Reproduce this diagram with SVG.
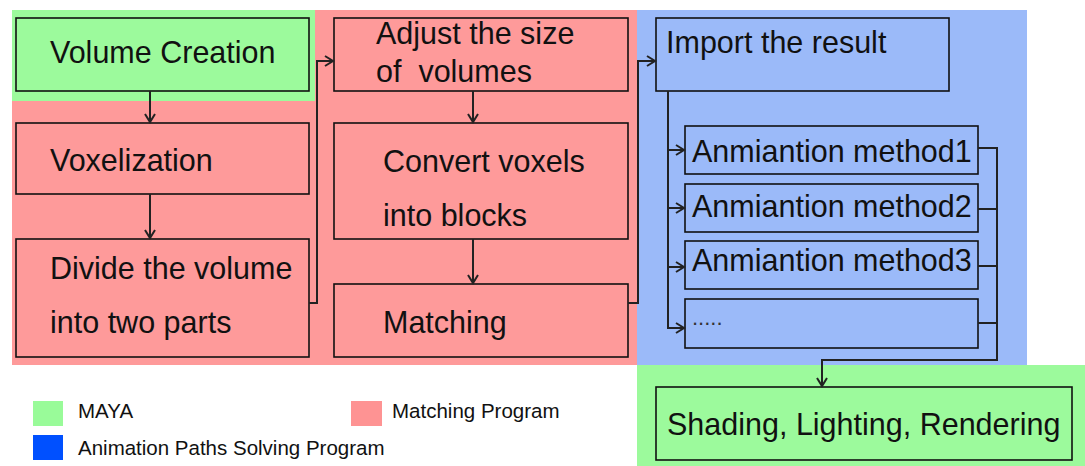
<svg xmlns="http://www.w3.org/2000/svg" width="1085" height="466" viewBox="0 0 1085 466">
<defs>
<style>
.box{fill:none;stroke:#111;stroke-width:1.6}
.t{font-family:"Liberation Sans",Arial,sans-serif;font-size:30.5px;fill:#111}
.lg{font-family:"Liberation Sans",Arial,sans-serif;font-size:20.5px;fill:#111}
.c{fill:none;stroke:#222;stroke-width:2}
</style>
<marker id="ah" markerWidth="12" markerHeight="12" refX="10" refY="6" orient="auto" markerUnits="userSpaceOnUse">
<path d="M2,1 L10,6 L2,11" fill="none" stroke="#222" stroke-width="2"/>
</marker>
</defs>
<rect x="0" y="0" width="1085" height="466" fill="#fff"/>
<g id="regions">
<rect x="12" y="10" width="625" height="355" fill="#fe9a9a"/>
<rect x="12" y="10" width="303" height="91" fill="#9cfa9c"/>
<rect x="637" y="10" width="390" height="355" fill="#9bbaf9"/>
<rect x="637" y="365" width="448" height="101" fill="#9cfa9c"/>
</g>
<g id="n-volume"><rect class="box" x="16" y="18" width="293" height="73"/><text class="t" x="50" y="63">Volume Creation</text></g>
<g id="n-voxel"><rect class="box" x="16" y="123" width="293" height="71"/><text class="t" x="50" y="171">Voxelization</text></g>
<g id="n-divide"><rect class="box" x="16" y="239" width="293" height="118"/><text class="t" x="50" y="279">Divide the volume</text><text class="t" x="50" y="333">into two parts</text></g>
<g id="n-adjust"><rect class="box" x="334" y="18" width="294" height="73"/><text class="t" x="376" y="44">Adjust the size</text><text class="t" x="376" y="82" xml:space="preserve">of  volumes</text></g>
<g id="n-convert"><rect class="box" x="334" y="123" width="294" height="116"/><text class="t" x="383" y="172">Convert voxels</text><text class="t" x="383" y="226">into blocks</text></g>
<g id="n-matching"><rect class="box" x="334" y="284" width="294" height="73"/><text class="t" x="383" y="333">Matching</text></g>
<g id="n-import"><rect class="box" x="656" y="18" width="293" height="73"/><text class="t" x="666" y="53">Import the result</text></g>
<g id="n-m1"><rect class="box" x="685" y="126" width="293" height="48"/><text class="t" x="692" y="162">Anmiantion method1</text></g>
<g id="n-m2"><rect class="box" x="685" y="184" width="293" height="48"/><text class="t" x="692" y="217">Anmiantion method2</text></g>
<g id="n-m3"><rect class="box" x="685" y="241" width="293" height="48"/><text class="t" x="692" y="271">Anmiantion method3</text></g>
<g id="n-m4"><rect class="box" x="685" y="299" width="293" height="49"/><text class="t" x="692" y="325" style="font-size:22px;fill:#333">.....</text></g>
<g id="n-shading"><rect class="box" x="656" y="387" width="416" height="73"/><text class="t" x="667" y="435">Shading, Lighting, Rendering</text></g>
<g id="connectors">
<path class="c" d="M150,91 V122" marker-end="url(#ah)"/>
<path class="c" d="M150,194 V238" marker-end="url(#ah)"/>
<path class="c" d="M309,303 H317 V61 H333" marker-end="url(#ah)"/>
<path class="c" d="M473,91 V122" marker-end="url(#ah)"/>
<path class="c" d="M473,239 V283" marker-end="url(#ah)"/>
<path class="c" d="M628,303 H638 V61 H655" marker-end="url(#ah)"/>
<path class="c" d="M668,91 V328 H684" marker-end="url(#ah)"/>
<path class="c" d="M668,150 H684" marker-end="url(#ah)"/>
<path class="c" d="M668,208 H684" marker-end="url(#ah)"/>
<path class="c" d="M668,267 H684" marker-end="url(#ah)"/>
<path class="c" d="M978,148 H997 V360 H822 V386" marker-end="url(#ah)"/>
<path class="c" d="M978,209 H997"/>
<path class="c" d="M978,266 H997"/>
<path class="c" d="M978,323 H997"/>
</g>
<g id="legend">
<rect x="33" y="401" width="30" height="25" fill="#99fb99"/>
<text class="lg" x="78" y="418">MAYA</text>
<rect x="351" y="401" width="31" height="25" fill="#fe9393"/>
<text class="lg" x="392" y="418">Matching Program</text>
<rect x="33" y="435" width="30" height="25" fill="#0050ff"/>
<text class="lg" x="78" y="455">Animation Paths Solving Program</text>
</g>
</svg>
